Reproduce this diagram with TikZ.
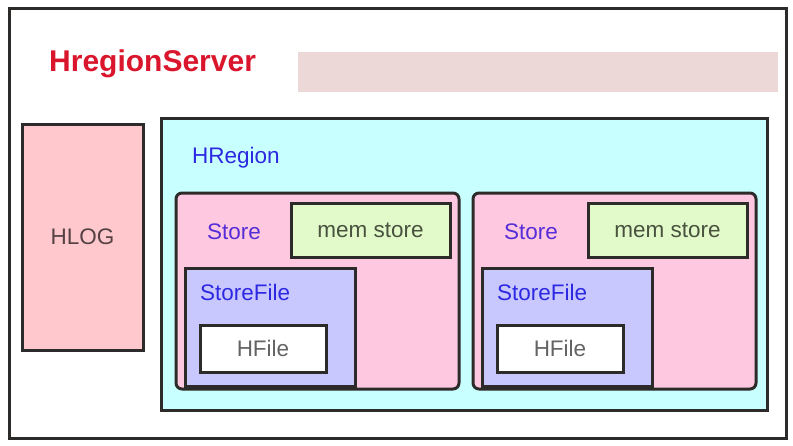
\documentclass[tikz,border=0pt]{standalone}
\usepackage{fontspec}
\setmainfont{Liberation Sans}
\usetikzlibrary{positioning}
\usepackage{xcolor}

\definecolor{frameline}{RGB}{45,42,42}
\definecolor{srvred}{RGB}{218,22,45}
\definecolor{lblblue}{RGB}{45,40,225}
\definecolor{storeblue}{RGB}{85,45,215}
\definecolor{hlogfill}{RGB}{255,200,205}
\definecolor{regionfill}{RGB}{200,255,255}
\definecolor{storefill}{RGB}{255,200,225}
\definecolor{memfill}{RGB}{226,250,202}
\definecolor{filefill}{RGB}{200,200,255}
\definecolor{blurfill}{RGB}{236,216,214}
\definecolor{darktext}{RGB}{85,65,68}
\definecolor{memtext}{RGB}{72,82,62}
\definecolor{hfiletext}{RGB}{100,100,100}

\tikzset{
  box/.style={draw=frameline, line width=3pt, anchor=north west, inner sep=0pt, outer sep=0pt},
  lbl/.style={font=\fontsize{22.5}{26}\selectfont, inner sep=0pt, anchor=base west},
  centertext/.style={font=\fontsize{22.5}{26}\selectfont}
}

\begin{document}
\begin{tikzpicture}[x=1pt, y=-1pt]
\useasboundingbox (0,0) rectangle (793,445);
% outer server frame
\node[box, minimum width=777pt, minimum height=430pt] (server) at (9,8) {};
\node[lbl, font=\bfseries\fontsize{30}{34}\selectfont, text=srvred] (server-label) at (49,71) {HregionServer};
\fill[blurfill] (298,52) rectangle (778,92);

% log
\node[box, fill=hlogfill, minimum width=121pt, minimum height=226pt] (hlog) at (22,124) {};
\node[centertext, text=darktext] at (hlog.center) {HLOG};

% region
\node[box, fill=regionfill, minimum width=606pt, minimum height=292pt] (hregion) at (161,118) {};
\node[lbl, text=lblblue] (hregion-label) at ([xshift=31pt, yshift=-45pt]hregion.north west) {HRegion};

% two stores
\foreach \i/\dx in {1/0, 2/297} {
  \begin{scope}[xshift=\dx pt]
    \node[box, fill=storefill, rounded corners=6pt, minimum width=283pt, minimum height=196pt] (store\i) at (176,193) {};
    \node[lbl, text=storeblue] (store\i-label) at ([xshift=31pt, yshift=-46pt]store\i.north west) {Store};
    \node[box, fill=memfill, minimum width=159pt, minimum height=54pt] (mem\i) at (291,203) {};
    \node[centertext, text=memtext] at (mem\i.center) {mem store};
    \node[box, fill=filefill, minimum width=170pt, minimum height=118pt] (storefile\i) at (185,268) {};
    \node[lbl, text=lblblue] (storefile\i-label) at ([xshift=15pt, yshift=-32pt]storefile\i.north west) {StoreFile};
    \node[box, fill=white, minimum width=126pt, minimum height=47pt] (hfile\i) at (200,325) {};
    \node[centertext, text=hfiletext] at (hfile\i.center) {HFile};
  \end{scope}
}
\end{tikzpicture}
\end{document}
